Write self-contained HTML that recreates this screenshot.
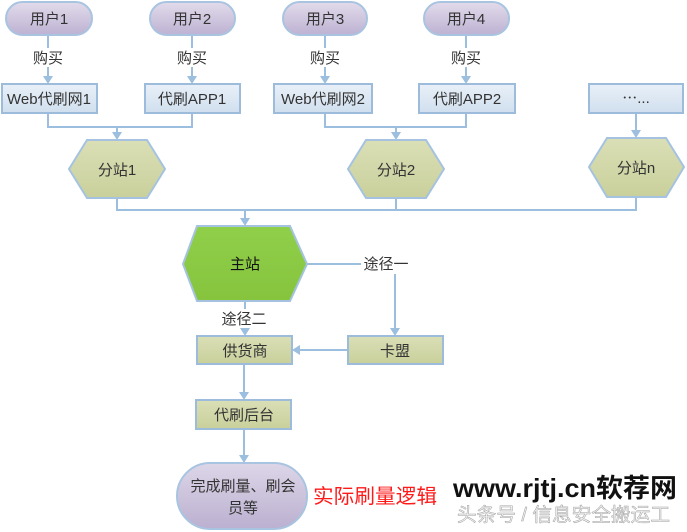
<!DOCTYPE html>
<html><head><meta charset="utf-8"><style>
html,body{margin:0;padding:0;background:#fff;}
svg{display:block;}
text{font-family:"Liberation Sans","Noto Sans CJK SC",sans-serif;}
</style></head><body>
<svg width="687" height="532" viewBox="0 0 687 532" xmlns="http://www.w3.org/2000/svg">
<defs>
<linearGradient id="pill" x1="0" y1="0" x2="0" y2="1"><stop offset="0" stop-color="#e2dbeb"/><stop offset="1" stop-color="#bdb2d2"/></linearGradient>
<linearGradient id="box" x1="0" y1="0" x2="0" y2="1"><stop offset="0" stop-color="#e9f0f8"/><stop offset="1" stop-color="#d0dfee"/></linearGradient>
<linearGradient id="olive" x1="0" y1="0" x2="0" y2="1"><stop offset="0" stop-color="#dadfb6"/><stop offset="1" stop-color="#c9d09b"/></linearGradient>
<linearGradient id="green" x1="0" y1="0" x2="0" y2="1"><stop offset="0" stop-color="#90cf4a"/><stop offset="1" stop-color="#86c43e"/></linearGradient>
<linearGradient id="pill2" x1="0" y1="0" x2="0" y2="1"><stop offset="0" stop-color="#ddd6e8"/><stop offset="1" stop-color="#bbb0d0"/></linearGradient>
</defs>

<g stroke="#9dbfdf" stroke-width="2" fill="none">
  <line x1="48" y1="36" x2="48" y2="78"/>
  <line x1="192" y1="36" x2="192" y2="78"/>
  <line x1="325" y1="36" x2="325" y2="78"/>
  <line x1="466" y1="36" x2="466" y2="78"/>
  <polyline points="48,113 48,127 192,127 192,113"/>
  <line x1="117" y1="127" x2="117" y2="134"/>
  <polyline points="325,113 325,127 466,127 466,113"/>
  <line x1="396" y1="127" x2="396" y2="134"/>
  <line x1="636" y1="113" x2="636" y2="132"/>
  <polyline points="117,198 117,210 636,210 636,197"/>
  <line x1="396" y1="199" x2="396" y2="210"/>
  <line x1="245" y1="210" x2="245" y2="220"/>
  <polyline points="307,264 395,264 395,330"/>
  <line x1="245" y1="301" x2="245" y2="330"/>
  <line x1="348" y1="350" x2="298" y2="350"/>
  <line x1="244" y1="364" x2="244" y2="394"/>
  <line x1="244" y1="429" x2="244" y2="457"/>
</g>
<g fill="#9dbfdf">
  <polygon points="43,76 53,76 48,84"/>
  <polygon points="187,76 197,76 192,84"/>
  <polygon points="320,76 330,76 325,84"/>
  <polygon points="461,76 471,76 466,84"/>
  <polygon points="112,132 122,132 117,140"/>
  <polygon points="391,132 401,132 396,140"/>
  <polygon points="631,130 641,130 636,138"/>
  <polygon points="240,218 250,218 245,226"/>
  <polygon points="390,328 400,328 395,336"/>
  <polygon points="240,328 250,328 245,336"/>
  <polygon points="300,345 300,355 292,350"/>
  <polygon points="239,392 249,392 244,400"/>
  <polygon points="239,455 249,455 244,463"/>
</g>

<g font-size="15" fill="#333" text-anchor="middle">
  <rect x="32" y="48" width="32" height="19" fill="#fff"/>
  <text x="48" y="63">购买</text>
  <rect x="176" y="48" width="32" height="19" fill="#fff"/>
  <text x="192" y="63">购买</text>
  <rect x="309" y="48" width="32" height="19" fill="#fff"/>
  <text x="325" y="63">购买</text>
  <rect x="450" y="48" width="32" height="19" fill="#fff"/>
  <text x="466" y="63">购买</text>
  <rect x="361" y="255" width="50" height="19" fill="#fff"/>
  <text x="386" y="269">途径一</text>
  <rect x="219" y="309" width="50" height="19" fill="#fff"/>
  <text x="244" y="324">途径二</text>
</g>

<g stroke="#a8c4e0" stroke-width="2" fill="url(#pill)">
  <rect x="6" y="2" width="86" height="33" rx="16.5"/>
  <rect x="150" y="2" width="85" height="33" rx="16.5"/>
  <rect x="283" y="2" width="84" height="33" rx="16.5"/>
  <rect x="424" y="2" width="85" height="33" rx="16.5"/>
</g>
<g font-size="15" fill="#333" text-anchor="middle">
  <text x="49" y="24">用户1</text>
  <text x="192" y="24">用户2</text>
  <text x="325" y="24">用户3</text>
  <text x="466" y="24">用户4</text>
</g>

<g stroke="#9dbcdc" stroke-width="2" fill="url(#box)">
  <rect x="2" y="84" width="95" height="29"/>
  <rect x="145" y="84" width="95" height="29"/>
  <rect x="274" y="84" width="98" height="29"/>
  <rect x="419" y="84" width="96" height="29"/>
  <rect x="589" y="84" width="94" height="29"/>
</g>
<g font-size="15" fill="#333" text-anchor="middle">
  <text x="49" y="104">Web代刷网1</text>
  <text x="192" y="104">代刷APP1</text>
  <text x="323" y="104">Web代刷网2</text>
  <text x="467" y="104">代刷APP2</text>
  <text x="636" y="103">⋯...</text>
</g>

<g stroke="#a5c3e0" stroke-width="2" fill="url(#olive)">
  <polygon points="69,169 87,140 147,140 165,169 147,198 87,198"/>
  <polygon points="348,169 366,140 426,140 444,169 426,198 366,198"/>
  <polygon points="589,167 607,138 666,138 684,167 666,197 607,197"/>
</g>
<g font-size="15" fill="#333" text-anchor="middle">
  <text x="117" y="175">分站1</text>
  <text x="396" y="175">分站2</text>
  <text x="636" y="173">分站n</text>
</g>

<polygon points="183,264 197,226 290,226 307,264 290,301 197,301" fill="url(#green)" stroke="#a5c3e0" stroke-width="2"/>
<text x="245" y="269" font-size="15" fill="#111" text-anchor="middle">主站</text>

<g stroke="#9dbcdc" stroke-width="2" fill="url(#olive)">
  <rect x="197" y="336" width="95" height="28"/>
  <rect x="348" y="336" width="95" height="28"/>
  <rect x="196" y="400" width="95" height="29"/>
</g>
<g font-size="15" fill="#333" text-anchor="middle">
  <text x="245" y="356">供货商</text>
  <text x="395" y="356">卡盟</text>
  <text x="244" y="420">代刷后台</text>
</g>

<rect x="177" y="463" width="130" height="66" rx="33" fill="url(#pill2)" stroke="#a8c4e0" stroke-width="2"/>
<g font-size="15" fill="#333" text-anchor="middle">
  <text x="243" y="491">完成刷量、刷会</text>
  <text x="243" y="513">员等</text>
</g>

<text x="313" y="503" font-size="20" fill="#ff1a1a" textLength="124" lengthAdjust="spacingAndGlyphs">实际刷量逻辑</text>

<text x="453" y="497" font-size="26" font-weight="bold" fill="#111" textLength="224" lengthAdjust="spacingAndGlyphs">www.rjtj.cn软荐网</text>
<text x="457" y="521" font-size="19" fill="#f4f4f4" stroke="#a0a0a0" stroke-width="0.5" textLength="213" lengthAdjust="spacingAndGlyphs">头条号 / 信息安全搬运工</text>
</svg>
</body></html>
